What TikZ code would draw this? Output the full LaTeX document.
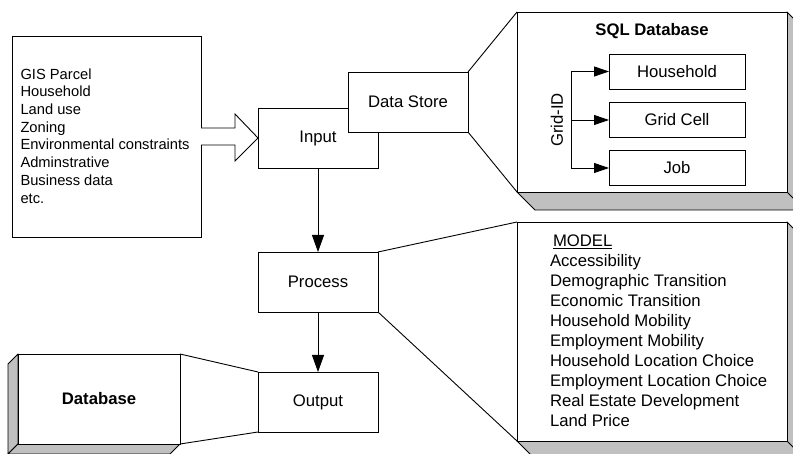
\documentclass[tikz,border=0pt]{standalone}
\usepackage{fontspec}
\setmainfont{Liberation Sans}
\usetikzlibrary{arrows.meta,calc}
\definecolor{shadegray}{RGB}{192,192,192}
\begin{document}
\begin{tikzpicture}[x=1pt,y=-1pt,
  box/.style={draw, fill=white, line width=0.9pt, inner sep=0pt, outer sep=0pt,
              font=\fontsize{16.7}{20}\selectfont},
  faceshade/.style={fill=shadegray, draw, line width=0.9pt, line join=round},
  link/.style={line width=0.9pt},
  flow/.style={line width=0.9pt, -{Triangle[length=17pt,width=12pt]}},
  gridarrow/.style={line width=0.9pt, -{Triangle[length=15pt,width=10pt]}},
  lbl/.style={inner sep=0pt, outer sep=0pt, font=\fontsize{16.7}{20}\selectfont}
]
\useasboundingbox (0,0) rectangle (793,454);
\clip (0,0) rectangle (793,454);

% ---------- source list box ----------
\node[box, minimum width=189pt, minimum height=201pt] (src) at (106.5,136.5) {};
\node[lbl, font=\fontsize{14.7}{17.7}\selectfont, align=left, anchor=north west] (srctext) at (20.5,68.5)
  {GIS Parcel\\Household\\Land use\\Zoning\\Environmental constraints\\Adminstrative\\Business data\\etc.};

% ---------- Input / Data Store ----------
\node[box, minimum width=120pt, minimum height=60pt] (input) at (318,138) {Input};
\node[box, minimum width=120pt, minimum height=60pt] (store) at (408,102) {Data Store};

% hollow arrow src -> input
\draw[link, fill=white] ($(src.east)+(0,-8.5)$) -- ($(src.east)+(34,-8.5)$) -- ($(src.east)+(34,-22.5)$)
  -- (input.west) -- ($(src.east)+(34,24.5)$) -- ($(src.east)+(34,8.5)$) -- ($(src.east)+(0,8.5)$);

% ---------- SQL database (3D box) ----------
\filldraw[faceshade] (517,192) -- (535,210) -- (805,210) -- (805,30) -- (787,12) -- (787,192) -- cycle;
\draw[link] (787,192) -- (805,210);
\node[box, minimum width=270pt, minimum height=180pt] (sql) at (652,102) {};
\node[lbl, font=\bfseries\fontsize{16.7}{20}\selectfont] (sqltitle) at (652,31) {SQL Database};
\node[box, minimum width=136pt, minimum height=35pt] (hh) at (677,71.5) {Household};
\node[box, minimum width=136pt, minimum height=35pt] (gc) at (677,120) {Grid Cell};
\node[box, minimum width=136pt, minimum height=35pt] (job) at (677,168) {Job};
\coordinate (gtop) at (571,71.5);
\coordinate (gmid) at (571,120);
\coordinate (gbot) at (571,168);
\draw[link] (gtop) -- (gbot);
\draw[gridarrow] (gtop) -- (hh.west);
\draw[gridarrow] (gmid) -- (gc.west);
\draw[gridarrow] (gbot) -- (job.west);
\node[lbl, rotate=90] (gid) at (557,120) {Grid-ID};

\draw[link] (store.north east) -- (sql.north west);
\draw[link] (store.south east) -- (sql.south west);

% ---------- Process ----------
\node[box, minimum width=120pt, minimum height=60pt] (proc) at (318,282) {Process};
\draw[flow] (input.south) -- (proc.north);

% ---------- Model (3D box) ----------
\filldraw[faceshade] (517,441) -- (535,459) -- (805,459) -- (805,240) -- (787,222) -- (787,441) -- cycle;
\draw[link] (787,441) -- (805,459);
\node[box, minimum width=270pt, minimum height=219pt] (mdl) at (652,331.5) {};
\node[lbl, align=left, anchor=north west] (mdltext) at (550,235)
  {\hspace{3pt}\underline{MODEL}\\Accessibility\\Demographic Transition\\Economic Transition\\Household Mobility\\Employment Mobility\\Household Location Choice\\Employment Location Choice\\Real Estate Development\\Land Price};
\draw[link] (proc.north east) -- (mdl.north west);
\draw[link] (proc.south east) -- (mdl.south west);

% ---------- Output ----------
\node[box, minimum width=120pt, minimum height=60pt] (out) at (318,402) {Output};
\draw[flow] (proc.south) -- (out.north);

% ---------- Database (3D box) ----------
\filldraw[faceshade] (18,354) -- (8,364) -- (8,454) -- (18,444) -- cycle;
\filldraw[faceshade] (18,444) -- (180,444) -- (170,454) -- (8,454) -- cycle;
\node[box, minimum width=162pt, minimum height=90pt, font=\bfseries\fontsize{16.7}{20}\selectfont] (db) at (99,399) {Database};
\draw[link] (db.north east) -- (out.north west);
\draw[link] (db.south east) -- (out.south west);

\end{tikzpicture}
\end{document}
